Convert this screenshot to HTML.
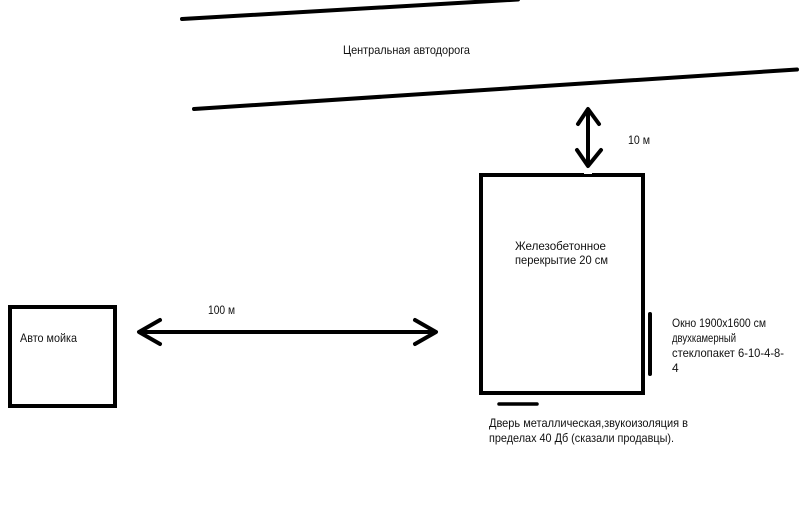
<!DOCTYPE html>
<html>
<head>
<meta charset="utf-8">
<style>
  html, body { margin:0; padding:0; background:#fff; }
  body { width:800px; height:532px; overflow:hidden; }
  svg { display:block; }
  text { font-family: "Liberation Sans", "Noto Sans CJK SC", sans-serif; font-size:12px; fill:#111; }
</style>
</head>
<body>
<svg width="800" height="532" viewBox="0 0 800 532" xmlns="http://www.w3.org/2000/svg">
  <rect x="0" y="0" width="800" height="532" fill="#fff"/>
  <!-- road lines -->
  <line x1="182" y1="19" x2="518" y2="-0.5" stroke="#000" stroke-width="4" stroke-linecap="round"/>
  <line x1="194" y1="109" x2="797" y2="69.5" stroke="#000" stroke-width="4" stroke-linecap="round"/>
  <text x="343" y="54" textLength="127" lengthAdjust="spacingAndGlyphs">Центральная автодорога</text>

  <!-- vertical arrow -->
  <g stroke="#000" stroke-width="4" stroke-linecap="round" stroke-linejoin="round" fill="none">
    <line x1="588" y1="110" x2="588" y2="165"/>
    <polyline points="578,124 588,109 599,124"/>
    <polyline points="577,150 588,166 601,150"/>
  </g>
  <text x="628" y="144" textLength="22" lengthAdjust="spacingAndGlyphs">10 м</text>

  <!-- main building -->
  <rect x="481" y="175" width="162" height="218" fill="none" stroke="#000" stroke-width="4"/>
  <rect x="584" y="172" width="8" height="2" fill="#fff"/>
  <text x="515" y="250" textLength="91" lengthAdjust="spacingAndGlyphs">Железобетонное</text>
  <text x="515" y="264" textLength="93" lengthAdjust="spacingAndGlyphs">перекрытие 20 см</text>

  <!-- window -->
  <line x1="650" y1="314" x2="650" y2="374" stroke="#000" stroke-width="4" stroke-linecap="round"/>
  <text x="672" y="327" textLength="94" lengthAdjust="spacingAndGlyphs">Окно 1900x1600 см</text>
  <text x="672" y="342" textLength="64" lengthAdjust="spacingAndGlyphs">двухкамерный</text>
  <text x="672" y="357" textLength="112" lengthAdjust="spacingAndGlyphs">стеклопакет 6-10-4-8-</text>
  <text x="672" y="372">4</text>

  <!-- door -->
  <line x1="499" y1="404" x2="537" y2="404" stroke="#000" stroke-width="3.5" stroke-linecap="round"/>
  <text x="489" y="427" textLength="199" lengthAdjust="spacingAndGlyphs">Дверь металлическая,звукоизоляция в</text>
  <text x="489" y="442" textLength="185" lengthAdjust="spacingAndGlyphs">пределах 40 Дб (сказали продавцы).</text>

  <!-- car wash -->
  <rect x="10" y="307" width="105" height="99" fill="none" stroke="#000" stroke-width="4"/>
  <text x="20" y="342" textLength="57" lengthAdjust="spacingAndGlyphs">Авто мойка</text>

  <!-- horizontal arrow -->
  <g stroke="#000" stroke-width="4" stroke-linecap="round" stroke-linejoin="round" fill="none">
    <line x1="140" y1="332" x2="435" y2="332"/>
    <polyline points="160,320 139,332 160,344"/>
    <polyline points="415,320 436,332 415,344"/>
  </g>
  <text x="208" y="314" textLength="27" lengthAdjust="spacingAndGlyphs">100 м</text>
</svg>
</body>
</html>
